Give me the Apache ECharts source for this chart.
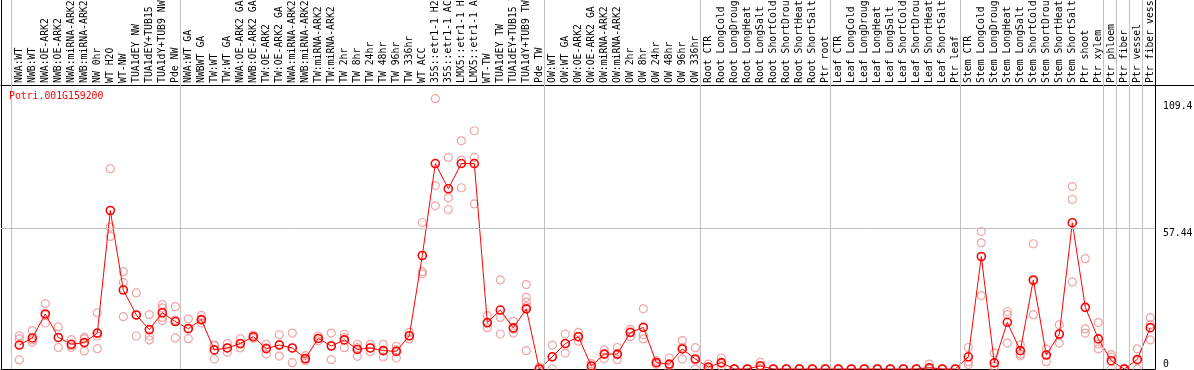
<!DOCTYPE html>
<html>
<head>
<meta charset="utf-8">
<script src="https://cdn.jsdelivr.net/npm/echarts@6/dist/echarts.min.js"></script>
<style>
html,body{margin:0;padding:0;background:#fff;}
#c{width:1194px;height:370px;}
</style>
</head>
<body>
<div id="c"></div>
<script>
const title = 'Potri.001G159200';

const categories = [
  'NWA:WT','NWB:WT','NWA:OE-ARK2','NWB:OE-ARK2','NWA:miRNA-ARK2','NWB:miRNA-ARK2','NW 0hr','WT H2O','WT-NW',
  'TUA1dEY NW','TUA1dEY+TUB15 NW','TUA1dY+TUB9 NW','Pde NW',
  'NWA:WT GA','NWBWT GA','TW:WT','TW:WT GA','NWA:OE-ARK2 GA','NWB:OE-ARK2 GA','TW:OE-ARK2','TW:OE-ARK2 GA',
  'NWA:miRNA-ARK2 GA','NWB:miRNA-ARK2 GA','TW:miRNA-ARK2','TW:miRNA-ARK2 GA','TW 2hr','TW 8hr','TW 24hr','TW 48hr',
  'TW 96hr','TW 336hr','WT ACC','35S::etr1-1 H2O','35S::etr1-1 ACC','LMX5::etr1-1 H2O','LMX5::etr1-1 ACC','WT-TW',
  'TUA1dEY TW','TUA1dEY+TUB15 TW','TUA1dY+TUB9 TW','Pde TW',
  'OW:WT','OW:WT GA','OW:OE-ARK2','OW:OE-ARK2 GA','OW:miRNA-ARK2','OW:miRNA-ARK2 GA','OW 2hr','OW 8hr','OW 24hr',
  'OW 48hr','OW 96hr','OW 336hr',
  'Root CTR','Root LongCold','Root LongDrought','Root LongHeat','Root LongSalt','Root ShortCold','Root ShortDrought',
  'Root ShortHeat','Root ShortSalt','Ptr root',
  'Leaf CTR','Leaf LongCold','Leaf LongDrought','Leaf LongHeat','Leaf LongSalt','Leaf ShortCold','Leaf ShortDrought',
  'Leaf ShortHeat','Leaf ShortSalt','Ptr leaf',
  'Stem CTR','Stem LongCold','Stem LongDrought','Stem LongHeat','Stem LongSalt','Stem ShortCold','Stem ShortDrought',
  'Stem ShortHeat','Stem ShortSalt','Ptr shoot','Ptr xylem',
  'Ptr phloem','Ptr fiber','Ptr vessel','Ptr fiber vessel'
];

// index of first category of each group
const groupStarts = [0, 13, 41, 53, 63, 73, 84, 85, 86, 87];

const means = [
  9.8, 12.7, 22.5, 12.9, 10.1, 10.8, 14.7, 64.8, 32.3, 22.1, 16.1, 23.0, 19.4,
  16.5, 20.2, 7.8, 8.6, 10.4, 13.2, 8.3, 9.8, 8.6, 4.3, 12.5, 9.4, 11.9, 8.0, 8.6, 7.5, 7.2, 13.6,
  46.4, 84.0, 73.7, 84.0, 84.0, 19.0, 24.1, 16.8, 24.6, 0,
  5.0, 10.4, 13.2, 1.2, 6.1, 6.1, 14.9, 17.0, 2.6, 2.0, 8.2, 4.1,
  0.8, 2.6, 0, 0, 1.3, 0, 0, 0, 0, 0,
  0, 0, 0, 0, 0, 0, 0, 0.5, 0, 0,
  5.0, 46.0, 2.5, 19.1, 7.5, 36.4, 5.7, 14.3, 59.8, 25.2, 12.3,
  3.4, 0, 3.9, 16.9
];

const replicates = [
  [13.6, 12.3, 3.7], [15.7, 11.9, 10.9], [26.7, 22.0, 18.8], [17.2, 12.8, 8.8], [12.0, 9.5, 8.8],
  [12.9, 12.3, 7.4], [23.0, 14.5, 13.5, 8.3], [81.9, 58.0, 54.2], [39.8, 35.4, 21.4], [31.1, 22.0, 13.5],
  [22.2, 13.5, 11.9], [26.3, 25.0, 21.1, 19.8], [25.5, 20.0, 12.7],
  [20.5, 16.6, 12.4], [21.9, 20.0, 18.8], [9.8, 9.5, 4.1], [10.4, 8.6, 6.8], [12.4, 10.2, 8.6],
  [13.9, 13.2, 12.5], [10.1, 8.7, 6.1], [14.0, 10.1, 5.3], [14.7, 8.5, 2.6], [5.5, 4.0, 3.4],
  [13.5, 12.5, 11.5], [14.7, 9.7, 3.8], [14.2, 12.8, 8.7], [10.1, 8.7, 5.2], [10.1, 8.6, 7.1],
  [10.1, 7.5, 4.9], [9.3, 7.8, 4.5], [15.0, 13.5, 12.3], [59.9, 39.8, 38.9], [110.5, 75.0, 66.7],
  [86.5, 70.0, 65.2], [93.3, 85.4, 74.1], [97.4, 86.5, 67.5], [21.8, 18.5, 16.9], [36.4, 21.1, 14.3],
  [19.5, 16.3, 14.7], [34.5, 29.3, 27.3, 25.5, 7.5], [0.8, 0, 0],
  [9.8, 5.0, 0.1], [14.3, 10.4, 6.5], [15.0, 13.2, 11.3], [2.2, 1.2, 0.3], [7.8, 6.2, 4.3],
  [8.8, 5.8, 3.8], [16.2, 15.2, 13.2], [24.6, 14.0, 12.3], [3.4, 2.6, 1.9], [4.5, 1.5, 0],
  [11.6, 8.8, 4.1], [8.7, 3.6, 0],
  [2.0, 0.4, 0], [4.5, 2.2, 1.1], [0, 0, 0], [0, 0, 0], [2.7, 1.0, 0.2], [0, 0, 0], [0, 0, 0],
  [0, 0, 0], [0, 0, 0], [0, 0, 0],
  [0, 0, 0], [0, 0, 0], [0, 0, 0], [0, 0, 0], [0, 0, 0], [0, 0, 0], [0, 0, 0], [2.0, 0, 0],
  [0, 0, 0], [0, 0, 0],
  [8.8, 3.0, 1.8], [56.2, 51.6, 30.0], [6.5, 1.1, 0], [23.5, 22.2, 10.6], [9.9, 6.1, 5.4],
  [51.2, 36.0, 22.2], [8.2, 5.9, 3.0], [18.1, 14.2, 10.6], [74.6, 69.3, 35.6], [45.1, 16.4, 14.7],
  [19.0, 10.2, 8.2],
  [5.9, 4.8, 0], [0.3, 0, 0], [8.2, 3.5, 0], [21.0, 18.1, 11.9]
];

const yTickLabels = [57.44, 109.4];
const yZeroLabel = [0];

// ---- layout constants (styling only) ----
const FONT = 'DejaVu Sans Mono';
const FS = 9.8;
const XMIN = -1.4077;
const XMAX = XMIN + 1154 / 13;
const YMAX = 150.86;

const meanData = means.map((v, i) => [i, v]);
const repData = [];
replicates.forEach((arr, i) => arr.forEach(v => repData.push([i, v])));
const boundaryLines = groupStarts.map(s => ({ xAxis: s - 0.6 }));

const chart = echarts.init(document.getElementById('c'), null, { renderer: 'canvas' });
chart.setOption({
  animation: false,
  backgroundColor: '#fff',
  title: {
    text: title, left: 9, top: 91, padding: 0,
    textStyle: { color: '#ff0000', fontFamily: FONT, fontSize: FS, fontWeight: 'normal' }
  },
  grid: { left: 1, right: 39, top: 0, bottom: 1, containLabel: false, outerBoundsMode: 'none' },
  xAxis: [
    {
      type: 'value', position: 'top', offset: -85, min: XMIN, max: XMAX,
      axisLine: { show: true, onZero: false, lineStyle: { color: '#000', width: 1 } },
      axisTick: { show: false }, splitLine: { show: false },
      axisLabel: {
        customValues: categories.map((_, i) => i),
        formatter: v => categories[Math.round(v)],
        rotate: -90, margin: 2, color: '#000', fontFamily: FONT, fontSize: FS,
        showMinLabel: true, showMaxLabel: true
      }
    },
    {
      type: 'value', position: 'bottom', min: XMIN, max: XMAX,
      axisLine: { show: true, onZero: false, lineStyle: { color: '#000', width: 1 } },
      axisTick: { show: false }, splitLine: { show: false }, axisLabel: { show: false }
    }
  ],
  yAxis: [
    {
      type: 'value', position: 'right', min: 0, max: YMAX,
      axisLine: { show: true, onZero: false, lineStyle: { color: '#000', width: 1 } },
      axisTick: { show: false }, splitLine: { show: false },
      axisLabel: {
        customValues: yTickLabels, formatter: v => String(v),
        verticalAlign: 'top', align: 'left', margin: 8,
        color: '#000', fontFamily: FONT, fontSize: FS
      }
    },
    {
      type: 'value', position: 'right', min: 0, max: YMAX,
      axisLine: { show: false, onZero: false },
      axisTick: { show: false }, splitLine: { show: false },
      axisLabel: {
        customValues: yZeroLabel, formatter: v => String(v),
        verticalAlign: 'bottom', align: 'left', margin: 8,
        color: '#000', fontFamily: FONT, fontSize: FS
      }
    },
    {
      type: 'value', position: 'left', min: 0, max: YMAX,
      axisLine: { show: true, onZero: false, lineStyle: { color: '#000', width: 1 } },
      axisTick: { show: false }, splitLine: { show: false }, axisLabel: { show: false }
    }
  ],
  graphic: [
    { type: 'line', silent: true, shape: { x1: 1155, y1: 85.5, x2: 1194, y2: 85.5 },
      style: { stroke: '#000', lineWidth: 1 } }
  ],
  series: [
    {
      type: 'scatter', name: 'replicates', xAxisIndex: 0, yAxisIndex: 0,
      data: repData, symbol: 'circle', symbolSize: 8, silent: true, z: 2,
      itemStyle: { color: 'rgba(0,0,0,0)', borderColor: '#eb8f8f', borderWidth: 1.2 },
      markLine: {
        silent: true, symbol: 'none', label: { show: false }, animation: false,
        lineStyle: { color: '#c0c0c0', width: 1, type: 'solid' },
        emphasis: { disabled: true },
        data: boundaryLines.concat([{ yAxis: yTickLabels[0] }])
      }
    },
    {
      type: 'line', name: 'mean', xAxisIndex: 0, yAxisIndex: 0,
      data: meanData, symbol: 'circle', symbolSize: 8, showSymbol: true, silent: true, z: 3,
      lineStyle: { color: '#ff0000', width: 1 },
      itemStyle: { color: 'rgba(0,0,0,0)', borderColor: '#ff0000', borderWidth: 1.6 }
    }
  ]
});
</script>
</body>
</html>
